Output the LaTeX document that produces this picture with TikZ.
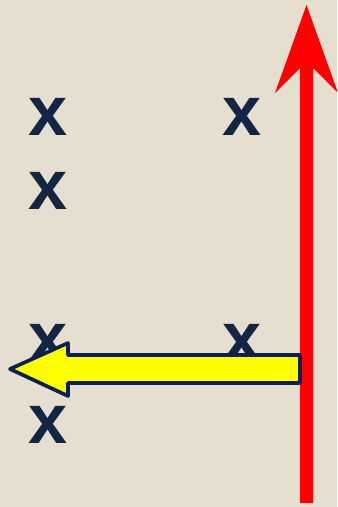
\documentclass[tikz,border=0pt]{standalone}
\usepackage{fontspec}
\setsansfont{Liberation Sans}
\usetikzlibrary{positioning}
\definecolor{mark-navy}{RGB}{18,38,68}
\definecolor{edge-navy}{RGB}{12,32,88}
\definecolor{paper-beige}{RGB}{230,223,208}
\definecolor{arrow-red}{RGB}{255,0,0}
\definecolor{arrow-yellow}{RGB}{255,255,0}

\begin{document}
\begin{tikzpicture}[x=0.03cm,y=-0.03cm,
    xmark/.style={text=mark-navy, inner sep=0pt, font=\sffamily\bfseries\fontsize{60}{60}\selectfont}]
\useasboundingbox (0,0) rectangle (337,507);
\clip (0,0) rectangle (337,507);
\fill[paper-beige] (0,0) rectangle (337,507);
% marks
\node[xmark] (xa) at (48,117) {x};
\node[xmark] (xb) at (242,117) {x};
\node[xmark] (xc) at (48,191) {x};
\node[xmark] (xd) at (48,343) {x};
\node[xmark] (xe) at (242,343) {x};
\node[xmark] (xf) at (48,425) {x};
% vertical arrow
\fill[arrow-red] (300,503) -- (300,68) -- (275,93) -- (306.5,5) -- (338,93) -- (313,68) -- (313,503) -- cycle;
% left arrow
\filldraw[fill=arrow-yellow, draw=edge-navy, line width=1.1mm, line join=round]
    (300,355) -- (68,355) -- (68,343) -- (10,369) -- (68,396) -- (68,383) -- (300,383) -- cycle;
\end{tikzpicture}
\end{document}
